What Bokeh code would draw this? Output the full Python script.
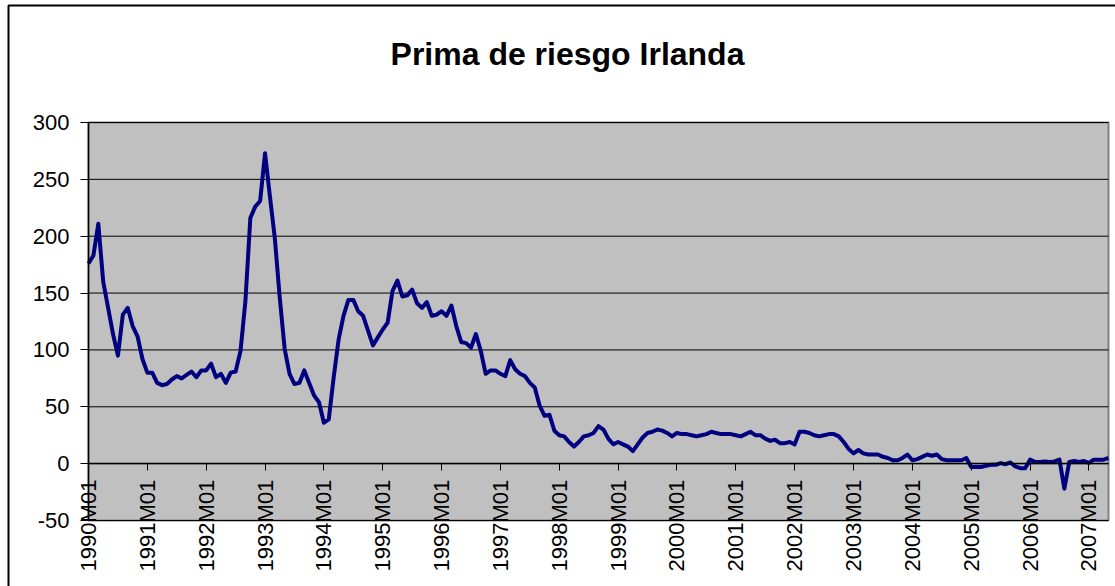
import math
import numpy as np
from bokeh.plotting import figure
from bokeh.models import FixedTicker, Range1d, Label, BoxAnnotation
from bokeh.embed import file_html
from bokeh.resources import INLINE

title_text = "Prima de riesgo Irlanda"

# monthly risk premium, 1990M01 .. 2007M05
values = [
    176, 183, 211, 160, 137, 114, 95, 131, 137, 121, 112, 92,      # 1990
    80, 80, 71, 69, 70, 74, 77, 75, 78, 81, 76, 82,                # 1991
    82, 88, 76, 79, 71, 80, 81, 99, 143, 216, 226, 231,            # 1992
    273, 235, 198, 146, 101, 79, 70, 71, 82, 71, 60, 54,           # 1993
    36, 39, 76, 109, 130, 144, 144, 134, 130, 117, 104, 111,       # 1994
    118, 124, 152, 161, 147, 148, 153, 141, 137, 142, 130, 131,    # 1995
    134, 130, 139, 121, 107, 106, 102, 114, 99, 79, 82, 82,        # 1996
    79, 77, 91, 83, 79, 77, 71, 67, 51, 42, 43, 29,                # 1997
    25, 24, 19, 15, 19, 24, 25, 27, 33, 30, 22, 17,                # 1998
    19, 17, 15, 11, 17, 23, 27, 28, 30, 29, 27, 24,                # 1999
    27, 26, 26, 25, 24, 25, 26, 28, 27, 26, 26, 26,                # 2000
    25, 24, 26, 28, 25, 25, 22, 20, 21, 18, 18, 19,                # 2001
    17, 28, 28, 27, 25, 24, 25, 26, 26, 24, 19, 13,                # 2002
    9, 12, 9, 8, 8, 8, 6, 5, 3, 3, 5, 8,                           # 2003
    3, 4, 6, 8, 7, 8, 4, 3, 3, 3, 3, 5,                            # 2004
    -3, -3, -3, -2, -1, -1, 0.5, -0.5, 1, -2.5, -4, -4,            # 2005
    3.5, 1.5, 1.5, 2, 1.5, 2, 3.5, -22, 1.5, 2.3, 1.5, 2.3,        # 2006
    0.6, 3.5, 3.5, 3.5, 5,                                         # 2007
]

tick_labels = ["1990M01", "1991M01", "1992M01", "1993M01", "1994M01", "1995M01",
               "1996M01", "1997M01", "1998M01", "1999M01", "2000M01", "2001M01",
               "2002M01", "2003M01", "2004M01", "2005M01", "2006M01", "2007M01"]
tick_positions = [12 * k for k in range(len(tick_labels))]
y_ticks = [-50, 0, 50, 100, 150, 200, 250, 300]

x = np.arange(len(values))

FONT = "Liberation Sans"

# canvas geometry (pixels); the page template has no body margin
W, H = 1115, 586
PL, PR, PT, PB = 88, 1108, 122, 520          # plot-area edges on the canvas
x_lo, x_hi = 0, len(values) - 1
y_lo, y_hi = y_ticks[0], y_ticks[-1]
xu = (x_hi - x_lo) / (PR - PL)
yu = (y_hi - y_lo) / (PB - PT)
x_range = Range1d(x_lo - PL * xu, x_lo + (W - PL) * xu)
y_range = Range1d(y_lo - (H - PB) * yu, y_hi + PT * yu)

p = figure(width=W, height=H, output_backend="svg", toolbar_location=None,
           x_range=x_range, y_range=y_range,
           min_border_left=0, min_border_right=0, min_border_top=0,
           min_border_bottom=0,
           background_fill_color="white", border_fill_color="white",
           outline_line_color=None)
p.xgrid.visible = False
p.ygrid.visible = False

# plot area
p.quad(left=[x_lo], right=[x_hi], bottom=[y_lo], top=[y_hi],
       fill_color="#C0C0C0", line_color="#808080", line_width=2)
# horizontal gridlines
p.segment(x0=[x_lo] * len(y_ticks), x1=[x_hi] * len(y_ticks),
          y0=y_ticks, y1=y_ticks, line_color="black", line_width=1)

p.line(x, values, line_color="#000080", line_width=4, line_join="round")

# y axis
ya = p.yaxis[0]
ya.fixed_location = x_lo
ya.bounds = (y_lo, y_hi)
ya.ticker = FixedTicker(ticks=y_ticks)
ya.major_label_overrides = {t: str(t) for t in y_ticks}
ya.major_label_text_font = FONT
ya.major_label_text_font_size = "22px"
ya.major_label_text_color = "black"
ya.axis_line_color = "black"
ya.axis_line_width = 1.5
ya.major_tick_out = 8
ya.major_tick_in = 0
ya.minor_tick_out = 0
ya.minor_tick_in = 0
ya.major_label_standoff = 11

# x axis crossing at zero
xa = p.xaxis[0]
xa.fixed_location = 0
xa.bounds = (x_lo, x_hi)
xa.ticker = FixedTicker(ticks=tick_positions)
xa.major_label_overrides = {t: l for t, l in zip(tick_positions, tick_labels)}
xa.major_label_orientation = math.pi / 2
xa.major_label_text_font = FONT
xa.major_label_text_font_size = "22px"
xa.major_label_text_color = "black"
xa.axis_line_color = "black"
xa.axis_line_width = 1.5
xa.major_tick_out = 7
xa.major_tick_in = 0
xa.minor_tick_out = 0
xa.minor_tick_in = 0
xa.major_label_standoff = 9

title = Label(x=567, y=H - 53, x_units="screen", y_units="screen", text=title_text,
              text_font=FONT, text_font_style="bold", text_font_size="32px",
              text_align="center", text_baseline="alphabetic", text_color="black")
p.add_layout(title)

border = BoxAnnotation(left=8, right=W + 200, top=H - 5, bottom=-200,
                       left_units="screen", right_units="screen",
                       top_units="screen", bottom_units="screen",
                       fill_alpha=0, line_color="black", line_alpha=1,
                       line_width=2)
p.add_layout(border)

open("out.html", "w").write(file_html(p, INLINE))
